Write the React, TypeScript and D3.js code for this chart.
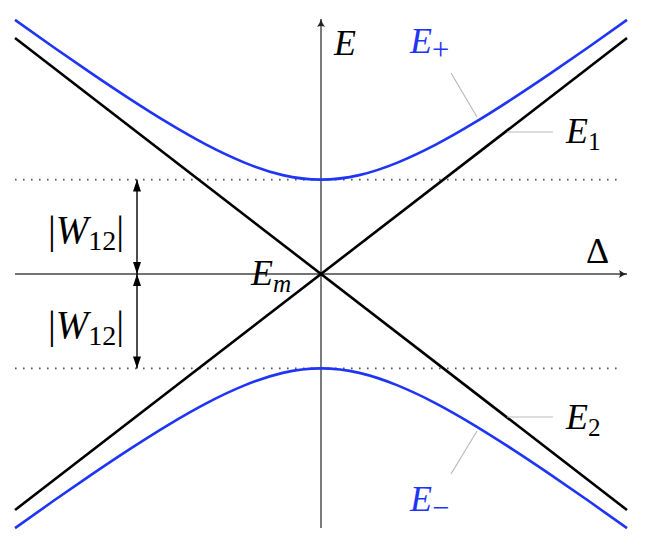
import React from 'react';
import * as d3 from 'd3';

// detuning samples and energies (units: E1(Δ=1) = 1)
const deltas = [-1, -0.875, -0.75, -0.625, -0.5, -0.375, -0.25, -0.125, 0, 0.125, 0.25, 0.375, 0.5, 0.625, 0.75, 0.875, 1];
const ePlus = [1.077, 0.962, 0.85, 0.742, 0.64, 0.548, 0.472, 0.419, 0.4, 0.419, 0.472, 0.548, 0.64, 0.742, 0.85, 0.962, 1.077];
const eMinus = ePlus.map(v => -v);
const lineEnds = [-1, 1];
const e1 = [-1, 1];
const e2 = [1, -1];
const w12 = 0.4;

const W = 656;
const H = 552;
const BLUE = '#1f35f5';
const FONT = 'Liberation Serif, Times New Roman, serif';

const x = d3.scaleLinear().domain([-1, 1]).range([15, 627]);
const y = d3.scaleLinear().domain([-1, 1]).range([510, 38]);

const curve = d3.line<[number, number]>()
	.x(d => x(d[0]))
	.y(d => y(d[1]))
	.curve(d3.curveNatural);

const straight = d3.line<[number, number]>()
	.x(d => x(d[0]))
	.y(d => y(d[1]));

function Label({ x, y, main, sub, color = '#000', size = 36, subScale = 0.7, subItalic = false }) {
	return (
		<text x={x} y={y} fill={color} style={{ fontFamily: FONT }} fontSize={size}>
			<tspan fontStyle="italic">{main}</tspan>
			{sub && <tspan fontSize={size * subScale} dy={size * 0.2} fontStyle={subItalic ? 'italic' : 'normal'}>{sub}</tspan>}
		</text>
	);
}

export default function App() {
	const x0 = x(0);
	const y0 = y(0);
	const yTop = y(w12);
	const yBot = y(-w12);
	const xArr = 137;

	return (
		<div style={{ position: 'absolute', left: 0, top: 0 }}>
			<svg width={W} height={H} style={{ display: 'block', background: '#fff' }}>
				<defs>
					<marker id="ax" viewBox="0 0 10 10" refX="9" refY="5" markerWidth="10" markerHeight="10" markerUnits="userSpaceOnUse" orient="auto">
						<path d="M1,1 Q5,4 9,5 Q5,6 1,9 Q3,5 1,1 Z" fill="#222" />
					</marker>
					<marker id="tri" viewBox="0 0 12 8" refX="12" refY="4" markerWidth="12" markerHeight="8" markerUnits="userSpaceOnUse" orient="auto-start-reverse">
						<path d="M0,0 L12,4 L0,8 Z" fill="#000" />
					</marker>
				</defs>

				{/* dotted W12 levels */}
				{[yTop, yBot].map((yy, i) => (
					<line key={i} x1={15} x2={623} y1={yy} y2={yy} stroke="#555" strokeWidth={1.6}
						strokeDasharray="1.6 6.4" />
				))}

				{/* axes */}
				<line x1={15} x2={627} y1={y0} y2={y0} stroke="#444" strokeWidth={1.4} markerEnd="url(#ax)" />
				<line x1={x0} x2={x0} y1={528} y2={19} stroke="#444" strokeWidth={1.4} markerEnd="url(#ax)" />

				{/* diabatic lines */}
				<path d={straight(lineEnds.map((d, i) => [d, e1[i]]))} fill="none" stroke="#000" strokeWidth={2.6} />
				<path d={straight(lineEnds.map((d, i) => [d, e2[i]]))} fill="none" stroke="#000" strokeWidth={2.6} />

				{/* adiabatic curves */}
				<path d={curve(deltas.map((d, i) => [d, ePlus[i]]))} fill="none" stroke={BLUE} strokeWidth={2.6} />
				<path d={curve(deltas.map((d, i) => [d, eMinus[i]]))} fill="none" stroke={BLUE} strokeWidth={2.6} />

				{/* |W12| arrows */}
				<line x1={xArr} x2={xArr} y1={yTop} y2={y0} stroke="#000" strokeWidth={1.4}
					markerStart="url(#tri)" markerEnd="url(#tri)" />
				<line x1={xArr} x2={xArr} y1={y0} y2={yBot} stroke="#000" strokeWidth={1.4}
					markerStart="url(#tri)" markerEnd="url(#tri)" />

				{/* leader lines */}
				<g stroke="#bbb" strokeWidth={1.2}>
					<line x1={451} y1={73} x2={477} y2={117} />
					<line x1={507} y1={132} x2={553} y2={132} />
					<line x1={507} y1={417} x2={553} y2={417} />
					<line x1={477} y1={431} x2={451} y2={474} />
				</g>

				{/* labels */}
				<Label x={334} y={55} main="E" />
				<Label x={410} y={53} main="E" sub="+" color={BLUE} subScale={0.85} />
				<Label x={566} y={143} main="E" sub="1" />
				<Label x={566} y={429} main="E" sub="2" />
				<Label x={410} y={511} main="E" sub="−" color={BLUE} subScale={0.85} />
				<Label x={251} y={285} main="E" sub="m" subItalic />
				<text x={586} y={263} style={{ fontFamily: FONT }} fontSize={36}>Δ</text>
				{[243, 338].map((by, i) => (
					<text key={i} x={48} y={by} style={{ fontFamily: FONT }} fontSize={39}>
						<tspan>|</tspan>
						<tspan fontStyle="italic">W</tspan>
						<tspan fontSize={28} dy={7}>12</tspan>
						<tspan dy={-7}>|</tspan>
					</text>
				))}
			</svg>
		</div>
	);
}
